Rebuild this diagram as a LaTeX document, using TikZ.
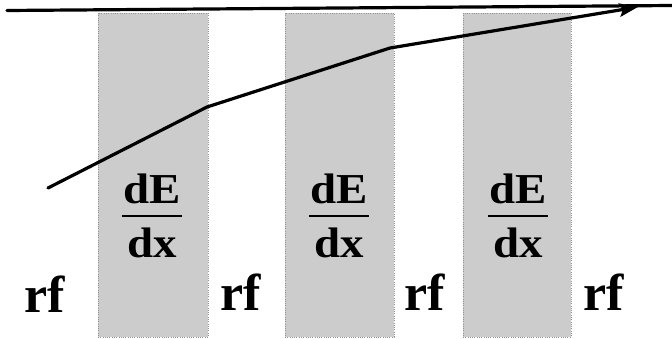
\documentclass[tikz,border=0pt]{standalone}
\usepackage{fontspec}
\setmainfont{Liberation Serif}
\usetikzlibrary{arrows.meta}
\begin{document}
\begin{tikzpicture}[x=0.75pt,y=-0.75pt,
  slab/.style={fill=gray!40,draw=gray!85,densely dotted,line width=0.7pt},
  numtext/.style={anchor=base,inner sep=0pt,font=\fontsize{32}{32}\bfseries\selectfont,xscale=1.1},
  rftext/.style={anchor=base,inner sep=0pt,font=\fontsize{39}{39}\bfseries\selectfont},
  fracbar/.style={line width=2.2pt},
  beam/.style={line width=2.4pt,line cap=round,line join=round},
  arrowbeam/.style={beam,-{Stealth[length=14pt,width=10pt,inset=2.5pt]}}]
\useasboundingbox (0,0) rectangle (672,339);
% absorber slabs
\path[slab] (98,13) rectangle (208,337);
\path[slab] (285,13) rectangle (394,337);
\path[slab] (463,13) rectangle (571,337);
% reference axis line
\coordinate (l0) at (7,10.5);
\coordinate (l1) at (672,5.5);
\draw[beam] (l0) -- (l1);
% energy trajectory
\coordinate (p0) at (48,188);
\coordinate (p1) at (207,107);
\coordinate (p2) at (390,48);
\coordinate (p3) at (638,7);
\draw[arrowbeam] (p0) -- (p1) -- (p2) -- (p3);
% dE/dx labels
\foreach \i/\cx in {1/152,2/339,3/518}{
  \node[numtext] (n\i) at (\cx,203) {dE};
  \node[numtext] (d\i) at (\cx,257) {dx};
  \draw[fracbar] (\cx-30,216) -- (\cx+30,216);
}
% rf labels
\node[rftext] (rf1) at (45,312) {rf};
\node[rftext] (rf2) at (241,310) {rf};
\node[rftext] (rf3) at (425,310) {rf};
\node[rftext] (rf4) at (604,310) {rf};
\end{tikzpicture}
\end{document}
